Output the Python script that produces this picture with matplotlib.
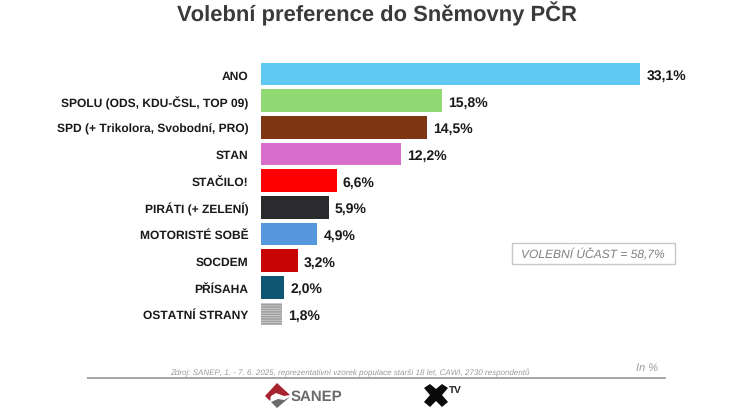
import matplotlib
matplotlib.use("Agg")
import matplotlib.pyplot as plt
from matplotlib.patches import Polygon, Rectangle

parties = ["ANO", "SPOLU (ODS, KDU-ČSL, TOP 09)", "SPD (+ Trikolora, Svobodní, PRO)", "STAN",
           "STAČILO!", "PIRÁTI (+ ZELENÍ)", "MOTORISTÉ SOBĚ", "SOCDEM", "PŘÍSAHA", "OSTATNÍ STRANY"]
values = [33.1, 15.8, 14.5, 12.2, 6.6, 5.9, 4.9, 3.2, 2.0, 1.8]
labels = ["33,1%", "15,8%", "14,5%", "12,2%", "6,6%", "5,9%", "4,9%", "3,2%", "2,0%", "1,8%"]
colors = ["#5FC8F3", "#90D973", "#7E3511", "#D76ECB", "#FE0000", "#2B2B2D", "#5598DE", "#C70505", "#0E5674", "#A0A0A0"]

W, H = 736, 414
plt.rcParams['font.family'] = ['Liberation Sans', 'DejaVu Sans']
plt.rcParams['hatch.color'] = '#d8d8d8'
plt.rcParams['hatch.linewidth'] = 0.5
plt.rcParams['text.hinting'] = 'none'
plt.rcParams['text.hinting_factor'] = 1
fig = plt.figure(figsize=(W/100, H/100), dpi=100, facecolor='white')

def fx(x): return x / W
def fy(y): return 1 - y / H

ax = fig.add_axes([fx(261), fy(328.3), (700-261)/W, (328.3-61.7)/H])
ax.set_xlim(0, 439/11.45)
ax.set_ylim(9.5, -0.5)
bars = ax.barh(range(len(values)), values, height=0.86, color=colors, linewidth=0)
bars[-1].set_hatch('-------')
for i, (v, l) in enumerate(zip(values, labels)):
    ax.text(v + 0.55, i + 0.04, l, va='center', ha='left', fontsize=9.8, fontweight='bold', color='#1a1a1a')
ax.set_yticks(range(len(parties)))
ax.set_yticklabels(parties, fontsize=8.6, fontweight='bold', color='#1a1a1a')
ax.tick_params(axis='y', length=0, pad=9)
ax.set_xticks([])
for s in ax.spines.values():
    s.set_visible(False)
ax.patch.set_alpha(0)

fig.text(fx(376.5), fy(14), "Volební preference do Sněmovny PČR", ha='center', va='center',
         fontsize=15.8, fontweight='bold', color='#3a3a3a')

fig.text(fx(593), fy(255), "VOLEBNÍ ÚČAST = 58,7%", ha='center', va='center', fontsize=8.7,
         style='italic', color='#7f7f7f')
fig.add_artist(Rectangle((fx(512), fy(265)), (675-512)/W, (265-244)/H, transform=fig.transFigure,
                         fill=False, edgecolor='#c8c8c8', linewidth=1.0))

fig.text(fx(350), fy(372.5), "Zdroj: SANEP, 1. - 7. 6. 2025, reprezentativní vzorek populace starší 18 let, CAWI, 2730 respondentů",
         ha='center', va='center', fontsize=5.9, style='italic', color='#9a9a9a')
fig.text(fx(647), fy(368), "In %", ha='center', va='center', fontsize=8, style='italic', color='#9a9a9a')
fig.add_artist(plt.Line2D([fx(88), fx(665)], [fy(378.5)]*2, transform=fig.transFigure, color='#a5a5a5', linewidth=1.4))

def poly(pts, c):
    fig.add_artist(Polygon([(fx(x), fy(y)) for x, y in pts], closed=True, transform=fig.transFigure,
                           facecolor=c, edgecolor='none'))
# SANEP logo
poly([(265, 397), (277, 384), (290, 396), (284, 397), (276, 394), (271, 397), (270, 402)], '#A8232F')
poly([(271, 403), (278, 400), (284, 401), (290, 398), (277, 409)], '#6b6b6b')
fig.text(fx(291), fy(397), "SANEP", ha='left', va='center', fontsize=11, fontweight='bold', color='#6a6a6a')
# X TV logo
poly([(424, 389), (430, 385), (436, 390), (442, 385), (448, 389), (442, 396), (448, 403),
      (442, 408), (436, 402), (430, 408), (424, 403), (430, 396)], '#0a0a0a')
fig.text(fx(449), fy(390), "TV", ha='left', va='center', fontsize=7, fontweight='bold', color='#222222')

fig.savefig("out.png", dpi=100, facecolor='white')
